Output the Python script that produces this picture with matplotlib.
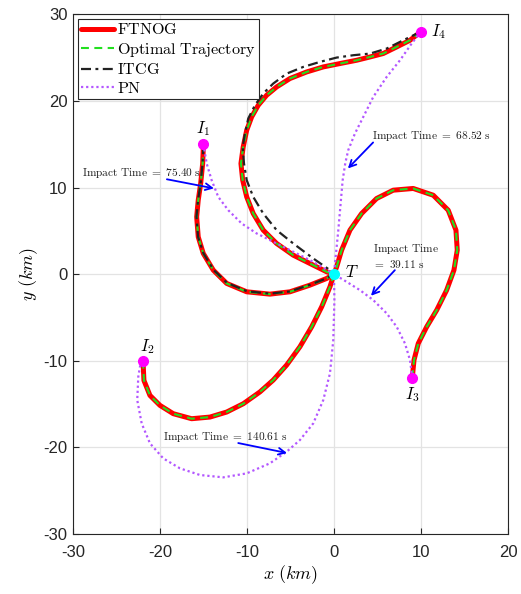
import matplotlib
matplotlib.use("Agg")
import matplotlib.pyplot as plt

plt.rcParams['mathtext.fontset'] = 'cm'
plt.rcParams['axes.unicode_minus'] = False
plt.rcParams['font.family'] = ['Liberation Sans', 'DejaVu Sans']

# ---------------- data (km) ----------------
# Interceptor start points and target
I1 = (-15.0, 15.0)
I2 = (-22.0, -10.0)
I3 = (9.0, -12.0)
I4 = (10.0, 28.0)
T = (0.0, 0.0)

# FTNOG (and optimal) trajectories
ftnog_1_x = [-15.0, -15.09, -15.32, -15.6, -15.78, -15.6, -15.02, -13.87, -12.33, -10.03, -7.36, -5.06, -2.76, -0.84, 0.0]
ftnog_1_y = [15.0, 12.77, 10.46, 8.54, 6.61, 4.3, 2.39, 0.46, -1.07, -2.04, -2.31, -2.04, -1.27, -0.5, 0.0]

ftnog_2_x = [-22.0, -21.92, -21.84, -21.15, -20.0, -18.47, -16.36, -14.25, -12.33, -10.42, -8.51, -6.98, -5.44, -3.91, -2.56, -1.41, -0.46, 0.0]
ftnog_2_y = [-10.0, -10.58, -12.27, -14.0, -15.15, -16.11, -16.69, -16.5, -15.92, -14.96, -13.6, -12.23, -10.5, -8.38, -6.08, -3.77, -1.46, 0.0]

ftnog_3_x = [9.0, 9.2, 9.69, 10.66, 11.81, 12.95, 13.79, 14.17, 14.02, 13.13, 11.41, 9.11, 6.81, 4.9, 3.18, 1.84, 0.88, 0.31, 0.0]
ftnog_3_y = [-12.0, -9.92, -8.0, -6.08, -4.15, -1.85, 0.46, 2.77, 5.08, 7.38, 9.11, 9.89, 9.69, 8.73, 7.0, 5.08, 2.77, 0.84, 0.0]

ftnog_4_x = [10.0, 8.74, 7.21, 5.67, 4.14, 2.61, 0.69, -1.23, -3.14, -5.06, -6.59, -7.74, -8.70, -9.46, -10.03, -10.43,
             -10.69, -10.49, -10.03, -9.28, -8.13, -6.59, -4.68, -2.76, -0.84, 0.0]
ftnog_4_y = [28.0, 27.0, 26.23, 25.47, 25.07, 24.69, 24.31, 23.92, 23.34, 22.58, 21.61, 20.65, 19.5, 18.15, 16.61, 14.69,
             12.77, 10.85, 8.92, 7.0, 5.08, 3.54, 2.19, 1.23, 0.27, 0.0]

# ITCG trajectories
itcg_1_x = [-15.0, -15.1, -15.33, -15.62, -15.8, -15.62, -15.0, -13.85, -12.3, -10.0, -7.36, -5.06, -2.76, -0.84, 0.0]
itcg_1_y = [15.0, 12.77, 10.46, 8.54, 6.61, 4.3, 2.4, 0.5, -1.0, -1.98, -2.25, -2.0, -1.23, -0.48, 0.0]

itcg_4_x = [10.0, 7.97, 6.06, 4.14, 2.22, 0.31, -1.61, -3.53, -5.43, -6.98, -8.13, -9.08, -9.85, -10.23, -10.49,
            -10.34, -10.03, -9.28, -8.13, -6.59, -4.68, -2.38, -0.46, 0.0]
itcg_4_y = [28.0, 27.0, 26.04, 25.46, 25.27, 25.0, 24.5, 23.92, 23.15, 22.0, 20.85, 19.5, 17.97, 16.23, 14.69,
            12.77, 10.85, 8.92, 7.0, 5.08, 3.54, 1.81, 0.46, 0.0]

# PN trajectories
pn_1_x = [-15.0, -14.63, -14.06, -13.3, -12.15, -10.61, -8.89, -6.59, -4.29, -2.38, 0.0]
pn_1_y = [15.0, 12.77, 10.85, 8.92, 7.38, 5.85, 4.7, 3.54, 2.39, 1.42, 0.0]

pn_2_x = [-22.0, -22.3, -22.49, -22.61, -22.1, -21.15, -19.62, -17.7, -15.4, -12.72, -10.03, -7.36, -5.44, -3.91,
          -2.38, -1.23, -0.46, -0.08, 0.05, 0.0]
pn_2_y = [-10.0, -10.7, -11.85, -14.54, -17.23, -19.53, -21.27, -22.42, -23.19, -23.46, -23.0, -21.84, -20.5, -19.15,
          -17.23, -14.54, -11.46, -7.62, -3.0, 0.0]

pn_3_x = [9.0, 8.74, 8.16, 7.21, 6.06, 4.52, 2.99, 1.46, 0.0]
pn_3_y = [-12.0, -9.92, -8.0, -6.08, -4.53, -3.0, -1.85, -0.89, 0.0]

pn_4_x = [10.0, 8.93, 7.59, 6.06, 4.52, 3.37, 2.41, 1.64, 1.3, 1.0, 0.5, 0.0]
pn_4_y = [28.0, 26.62, 24.69, 22.77, 20.46, 18.15, 16.23, 14.31, 12.8, 10.85, 5.08, 0.0]

impact_labels = [r'$\mathrm{Impact\ Time\ =\ 75.40\ s}$',
                 r'$\mathrm{Impact\ Time\ =\ 68.52\ s}$',
                 r'$\mathrm{Impact\ Time}$' + '\n' + r'$\mathrm{=\ 39.11\ s}$',
                 r'$\mathrm{Impact\ Time\ =\ 140.61\ s}$']
impact_text_xy = [(-29.0, 11.65), (4.37, 15.9), (4.5, 2.1), (-19.65, -18.8)]
impact_arrow_tail = [(-19.2, 10.95), (4.5, 15.2), (7.0, 0.46), (-11.0, -19.5)]
impact_arrow_tip = [(-13.8, 9.9), (1.6, 12.2), (4.25, -2.5), (-5.4, -20.65)]

# ---------------- plotting ----------------
fig = plt.figure(figsize=(5.21, 5.94), dpi=100)
ax = fig.add_axes([0.140, 0.101, 0.835, 0.875])

red = '#ff0000'
green = '#22e01f'
black = '#222222'
purple = '#b357ff'

ftnog = [(ftnog_1_x, ftnog_1_y), (ftnog_2_x, ftnog_2_y), (ftnog_3_x, ftnog_3_y), (ftnog_4_x, ftnog_4_y)]
itcg = [(itcg_1_x, itcg_1_y), (itcg_4_x, itcg_4_y)]
pn = [(pn_1_x, pn_1_y), (pn_2_x, pn_2_y), (pn_3_x, pn_3_y), (pn_4_x, pn_4_y)]

for i, (x, y) in enumerate(ftnog):
    ax.plot(x, y, color=red, lw=3.6, solid_joinstyle='round', solid_capstyle='round',
            label=r'$\mathrm{FTNOG}$' if i == 0 else None, zorder=3)
for i, (x, y) in enumerate(ftnog):
    ax.plot(x, y, color=green, lw=1.5, ls=(0, (3.8, 2.6)), dash_joinstyle='round',
            label=r'$\mathrm{Optimal\ Trajectory}$' if i == 0 else None, zorder=4)
for i, (x, y) in enumerate(itcg):
    ax.plot(x, y, color=black, lw=1.6, ls=(0, (4.5, 2, 1.3, 2)), dash_joinstyle='round',
            label=r'$\mathrm{ITCG}$' if i == 0 else None, zorder=5)
for i, (x, y) in enumerate(pn):
    ax.plot(x, y, color=purple, lw=1.6, ls=(0, (1, 1.3)),
            label=r'$\mathrm{PN}$' if i == 0 else None, zorder=6)

# markers
for p in [I1, I2, I3, I4]:
    ax.plot(p[0], p[1], 'o', color='#ff00ff', ms=7, zorder=8)
ax.plot(T[0], T[1], 'o', color='#00ffff', ms=7, zorder=8)

ax.text(I1[0], I1[1] + 0.7, r'$I_1$', fontsize=12, ha='center', va='bottom', zorder=9)
ax.text(I2[0] + 0.5, I2[1] + 0.6, r'$I_2$', fontsize=12, ha='center', va='bottom', zorder=9)
ax.text(I3[0], I3[1] - 0.8, r'$I_3$', fontsize=12, ha='center', va='top', zorder=9)
ax.text(I4[0] + 1.2, I4[1], r'$I_4$', fontsize=12, ha='left', va='center', zorder=9)
ax.text(T[0] + 1.3, T[1] + 0.2, r'$T$', fontsize=12, ha='left', va='center', zorder=9)

for lab, txy, tail, tip in zip(impact_labels, impact_text_xy, impact_arrow_tail, impact_arrow_tip):
    ax.text(txy[0], txy[1], lab, fontsize=8.2, ha='left', va='center', color='#222222',
            linespacing=1.15, zorder=10)
    ax.annotate('', xy=tip, xytext=tail,
                arrowprops=dict(arrowstyle='->', color='#0000ff', lw=1.3,
                                shrinkA=0, shrinkB=0, mutation_scale=12), zorder=9)

ax.set_xlim(-30, 20)
ax.set_ylim(-30, 30)
ax.set_xticks(range(-30, 21, 10))
ax.set_yticks(range(-30, 31, 10))
ax.grid(True, color='#e3e3e3', lw=0.9)
ax.set_axisbelow(True)
ax.tick_params(direction='in', length=4, labelsize=12, colors='#262626', width=0.8)
ax.tick_params(axis='x', pad=8)
ax.tick_params(axis='y', pad=4)
for s in ax.spines.values():
    s.set_color('#262626')
    s.set_linewidth(0.8)

ax.set_xlabel(r'$x\ (km)$', fontsize=13, labelpad=2)
ax.set_ylabel(r'$y\ (km)$', fontsize=13, labelpad=2)

leg = ax.legend(loc='upper left', fontsize=11.6, frameon=True, fancybox=False,
                edgecolor='#262626', framealpha=1.0, borderaxespad=0.3,
                handlelength=2.05, handletextpad=0.2, borderpad=0.2, labelspacing=0.22)
leg.get_frame().set_linewidth(0.8)

fig.savefig('out.png', dpi=100)
